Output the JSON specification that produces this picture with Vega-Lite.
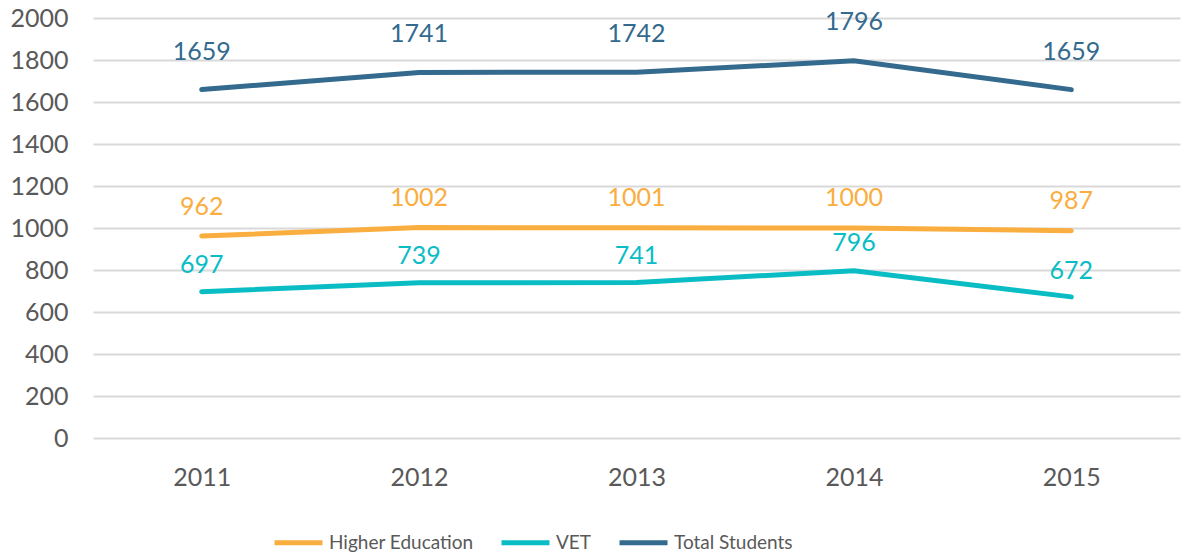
{
  "$schema": "https://vega.github.io/schema/vega-lite/v6.json",
  "autosize": "none",
  "width": 1087,
  "height": 420,
  "padding": {"left": 93, "top": 18, "right": 10, "bottom": 121},
  "background": "white",
  "config": {
    "font": "Lato",
    "view": {"stroke": null}
  },
  "data": {
    "values": [
      {"year": "2011", "series": "Higher Education", "value": 962},
      {"year": "2012", "series": "Higher Education", "value": 1002},
      {"year": "2013", "series": "Higher Education", "value": 1001},
      {"year": "2014", "series": "Higher Education", "value": 1000},
      {"year": "2015", "series": "Higher Education", "value": 987},
      {"year": "2011", "series": "VET", "value": 697},
      {"year": "2012", "series": "VET", "value": 739},
      {"year": "2013", "series": "VET", "value": 741},
      {"year": "2014", "series": "VET", "value": 796},
      {"year": "2015", "series": "VET", "value": 672},
      {"year": "2011", "series": "Total Students", "value": 1659},
      {"year": "2012", "series": "Total Students", "value": 1741},
      {"year": "2013", "series": "Total Students", "value": 1742},
      {"year": "2014", "series": "Total Students", "value": 1796},
      {"year": "2015", "series": "Total Students", "value": 1659}
    ]
  },
  "encoding": {
    "x": {
      "field": "year", "type": "ordinal",
      "scale": {"type": "point", "padding": 0.5},
      "axis": {"title": null, "domain": false, "ticks": false, "labelAngle": 0, "labelFontSize": 25, "labelColor": "#595959", "labelPadding": 27, "grid": false}
    },
    "color": {
      "field": "series", "type": "nominal",
      "scale": {"domain": ["Higher Education", "VET", "Total Students"], "range": ["#F9AE3F", "#0ABDC5", "#336A8E"]},
      "legend": {
        "title": null, "orient": "none", "direction": "horizontal",
        "legendX": 179, "legendY": 498,
        "symbolType": "stroke", "symbolSize": 2304, "symbolStrokeWidth": 5,
        "labelFontSize": 19, "labelColor": "#595959", "labelOffset": 4,
        "columnPadding": 17, "labelLimit": 300
      }
    }
  },
  "layer": [
    {
      "mark": {"type": "line", "strokeWidth": 5, "strokeCap": "round"},
      "encoding": {
        "y": {
          "field": "value", "type": "quantitative",
          "scale": {"domain": [0, 2000], "nice": false},
          "axis": {"title": null, "domain": false, "ticks": false, "format": "d", "values": [0,200,400,600,800,1000,1200,1400,1600,1800,2000], "labelFontSize": 25, "labelColor": "#595959", "labelPadding": 25, "gridColor": "#D9D9D9", "gridWidth": 2}
        }
      }
    },
    {
      "mark": {"type": "text", "fontSize": 25, "baseline": "middle"},
      "encoding": {
        "y": {"field": "value", "type": "quantitative", "scale": {"domain": [-82, 1813], "nice": false, "zero": false}, "axis": null},
        "text": {"field": "value", "type": "quantitative"}
      }
    }
  ],
  "resolve": {"scale": {"y": "independent"}}
}
